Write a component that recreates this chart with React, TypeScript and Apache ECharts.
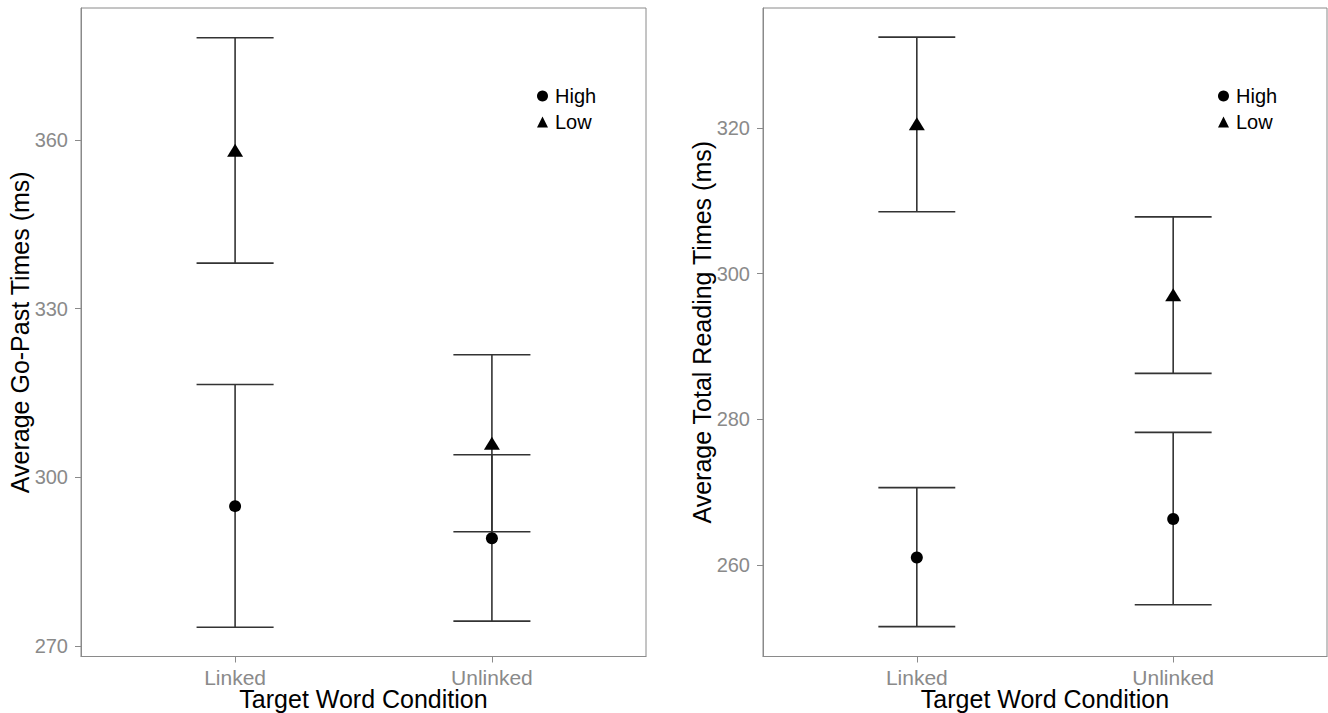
import React, { useEffect, useRef } from 'react';
import * as echarts from 'echarts';

const conditions = ['Linked', 'Unlinked'];
const conditionX = [1, 2];

// Panel A: Average Go-Past Times (ms)
const goPastHighMean = [294.85, 289.15];
const goPastHighLower = [273.3, 274.4];
const goPastHighUpper = [316.5, 304.0];
const goPastLowMean = [358.2, 306.05];
const goPastLowLower = [338.1, 290.3];
const goPastLowUpper = [378.2, 321.8];
const goPastTicks = [270, 300, 330, 360];

// Panel B: Average Total Reading Times (ms)
const totalHighMean = [261.0, 266.3];
const totalHighLower = [251.5, 254.5];
const totalHighUpper = [270.6, 278.2];
const totalLowMean = [320.6, 297.1];
const totalLowLower = [308.5, 286.3];
const totalLowUpper = [332.5, 307.8];
const totalTicks = [260, 280, 300, 320];

const FONT = '"Liberation Sans", Arial, Helvetica, sans-serif';
const GREY = '#8a8a8a';
const BAR = '#333333';

function errorData(lower: number[], upper: number[]) {
  return conditionX.map((x, i) => [x, lower[i], upper[i]]);
}
function pointData(mean: number[]) {
  return conditionX.map((x, i) => [x, mean[i]]);
}

function renderErrorBar(params: any, api: any) {
  const x = api.value(0);
  const lo = api.value(1);
  const hi = api.value(2);
  const pLo = api.coord([x, lo]);
  const pHi = api.coord([x, hi]);
  const half = api.size([0.15, 0])[0];
  const style = { stroke: BAR, lineWidth: 1.6 };
  return {
    type: 'group',
    children: [
      { type: 'line', shape: { x1: pLo[0], y1: pLo[1], x2: pHi[0], y2: pHi[1] }, style },
      { type: 'line', shape: { x1: pLo[0] - half, y1: pLo[1], x2: pLo[0] + half, y2: pLo[1] }, style },
      { type: 'line', shape: { x1: pHi[0] - half, y1: pHi[1], x2: pHi[0] + half, y2: pHi[1] }, style },
    ],
  };
}

function xAxisFor(gridIndex: number) {
  return {
    type: 'value',
    gridIndex,
    min: 0.4,
    max: 2.6,
    splitLine: { show: false },
    axisLine: { show: true, onZero: false, lineStyle: { color: GREY, width: 1 } },
    axisTick: { show: true, customValues: conditionX, length: 6, lineStyle: { color: GREY } },
    axisLabel: {
      customValues: conditionX,
      formatter: (v: number) => conditions[Math.round(v) - 1] ?? '',
      color: GREY,
      fontSize: 21,
      fontFamily: FONT,
      margin: 10,
    },
    name: 'Target Word Condition',
    nameLocation: 'middle',
    nameGap: 30,
    nameMoveOverlap: false,
    nameTextStyle: { fontSize: 25, color: '#000', fontFamily: FONT },
  };
}

function yAxisFor(gridIndex: number, min: number, max: number, ticks: number[], name: string) {
  return {
    type: 'value',
    gridIndex,
    min,
    max,
    splitLine: { show: false },
    axisLine: { show: true, onZero: false, lineStyle: { color: GREY, width: 1 } },
    axisTick: { show: true, customValues: ticks, length: 6, lineStyle: { color: GREY } },
    axisLabel: {
      customValues: ticks,
      color: GREY,
      fontSize: 20,
      fontFamily: FONT,
      margin: 13,
    },
    name,
    nameLocation: 'middle',
    nameGap: 49,
    nameMoveOverlap: false,
    nameTextStyle: { fontSize: 25, color: '#000', fontFamily: FONT },
  };
}

function seriesFor(
  idx: number,
  highMean: number[], highLo: number[], highHi: number[],
  lowMean: number[], lowLo: number[], lowHi: number[]
) {
  return [
    {
      type: 'custom',
      name: 'High CI',
      xAxisIndex: idx,
      yAxisIndex: idx,
      renderItem: renderErrorBar,
      encode: { x: 0, y: [1, 2] },
      data: errorData(highLo, highHi),
      z: 2,
    },
    {
      type: 'custom',
      name: 'Low CI',
      xAxisIndex: idx,
      yAxisIndex: idx,
      renderItem: renderErrorBar,
      encode: { x: 0, y: [1, 2] },
      data: errorData(lowLo, lowHi),
      z: 2,
    },
    {
      type: 'scatter',
      name: 'High',
      xAxisIndex: idx,
      yAxisIndex: idx,
      symbol: 'circle',
      symbolSize: 12,
      itemStyle: { color: '#000', opacity: 1 },
      data: pointData(highMean),
      z: 3,
    },
    {
      type: 'scatter',
      name: 'Low',
      xAxisIndex: idx,
      yAxisIndex: idx,
      symbol: 'triangle',
      symbolSize: [16, 13],
      itemStyle: { color: '#000', opacity: 1 },
      data: pointData(lowMean),
      z: 3,
    },
  ];
}

function legendAt(left: number) {
  return {
    left,
    top: 81,
    orient: 'vertical',
    itemWidth: 11,
    itemHeight: 11,
    itemGap: 6,
    selectedMode: false,
    itemStyle: { color: '#000', opacity: 1 },
    data: [
      { name: 'High', icon: 'circle' },
      { name: 'Low', icon: 'triangle' },
    ],
    textStyle: { fontSize: 20, color: '#000', fontFamily: FONT, padding: [0, 0, 0, 2] },
  };
}

export default function App() {
  const ref = useRef<HTMLDivElement>(null);
  useEffect(() => {
    if (!ref.current) return;
    const chart = echarts.init(ref.current, undefined, { renderer: 'svg' });
    chart.setOption({
      animation: false,
      backgroundColor: '#ffffff',
      grid: [
        { left: 81, top: 8, width: 565, height: 648.5, show: true, borderColor: GREY, borderWidth: 1, containLabel: false, outerBoundsMode: 'none' },
        { left: 763, top: 8, width: 564, height: 648.5, show: true, borderColor: GREY, borderWidth: 1, containLabel: false, outerBoundsMode: 'none' },
      ],
      legend: [legendAt(532), legendAt(1213)],
      xAxis: [xAxisFor(0), xAxisFor(1)],
      yAxis: [
        yAxisFor(0, 268.1, 383.5, goPastTicks, 'Average Go-Past Times (ms)'),
        yAxisFor(1, 247.4, 336.5, totalTicks, 'Average Total Reading Times (ms)'),
      ],
      series: [
        ...seriesFor(0, goPastHighMean, goPastHighLower, goPastHighUpper, goPastLowMean, goPastLowLower, goPastLowUpper),
        ...seriesFor(1, totalHighMean, totalHighLower, totalHighUpper, totalLowMean, totalLowLower, totalLowUpper),
      ],
    });
    return () => chart.dispose();
  }, []);
  return (
    <div
      ref={ref}
      style={{ position: 'fixed', left: 0, top: 0, width: 1328, height: 713, background: '#fff' }}
    />
  );
}
